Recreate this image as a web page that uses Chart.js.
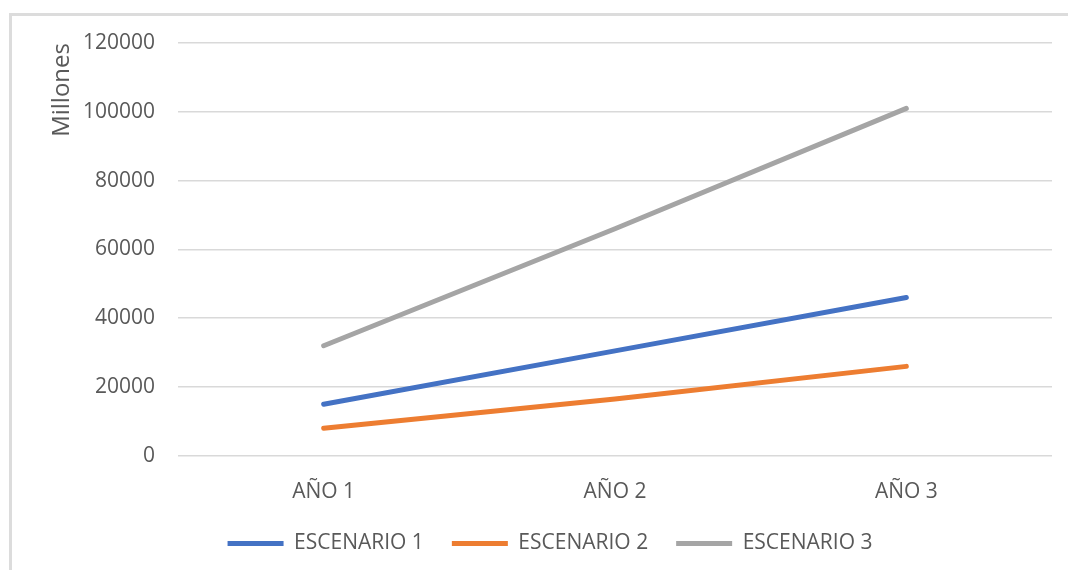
<!DOCTYPE html>
<html>
<head>
<meta charset="utf-8">
<script src="https://cdn.jsdelivr.net/npm/chart.js@4"></script>
<style>
  html, body { margin: 0; padding: 0; background: #fff; }
  #wrap { position: relative; width: 1068px; height: 570px; overflow: hidden; }
  #frame { position: absolute; left: 9px; top: 13px; width: 1100px; height: 600px;
           border-left: 3px solid #dcdcdc; border-top: 3px solid #dcdcdc; }
  canvas { position: absolute; left: 0; top: 0; }
</style>
</head>
<body>
<div id="wrap">
  <div id="frame"></div>
  <canvas id="chart" width="1068" height="570"></canvas>
</div>
<script>
// datos
const categories = ['AÑO 1', 'AÑO 2', 'AÑO 3'];
const escenario1 = [15000, 30500, 46000];
const escenario2 = [8000, 16500, 26000];
const escenario3 = [32000, 66000, 101000];
const seriesNames = ['ESCENARIO 1', 'ESCENARIO 2', 'ESCENARIO 3'];
const seriesColors = ['#4472c4', '#ed7d31', '#a5a5a5'];

const FONT = '"Open Sans", sans-serif';
const TEXT = '#595959';

const mkSet = (i, data) => ({
    label: seriesNames[i],
    data: data,
    borderColor: seriesColors[i],
    backgroundColor: seriesColors[i],
    borderWidth: 5,
    borderCapStyle: 'round',
    pointRadius: 0,
    pointStyle: 'line',
    tension: 0
});

new Chart(document.getElementById('chart'), {
    type: 'line',
    data: {
        labels: categories,
        datasets: [mkSet(0, escenario1), mkSet(1, escenario2), mkSet(2, escenario3)]
    },
    options: {
        responsive: false,
        animation: false,
        layout: { padding: { left: 48, right: 16, top: 43, bottom: 6 } },
        plugins: {
            legend: {
                position: 'bottom',
                labels: {
                    usePointStyle: true,
                    pointStyleWidth: 56,
                    color: TEXT,
                    font: { family: FONT, size: 21 },
                    padding: 28
                }
            },
            tooltip: { enabled: false }
        },
        scales: {
            x: {
                offset: true,
                grid: { display: false, drawTicks: false },
                border: { display: false },
                ticks: { color: TEXT, font: { family: FONT, size: 21 }, padding: 24 },
                afterFit: (s) => { s.height -= 24; }
            },
            y: {
                min: 0, max: 120000,
                grid: { color: '#d9d9d9', lineWidth: 1.5, drawTicks: false },
                border: { display: false },
                ticks: { stepSize: 20000, color: TEXT, font: { family: FONT, size: 21 }, padding: 23,
                         callback: (v) => String(v) },
                title: { display: true, text: 'Millones', align: 'end', color: TEXT,
                         font: { family: FONT, size: 24 }, padding: { top: 0, bottom: 0 } },
                afterFit: (s) => { s.width = 130; }
            }
        }
    }
});
</script>
</body>
</html>
